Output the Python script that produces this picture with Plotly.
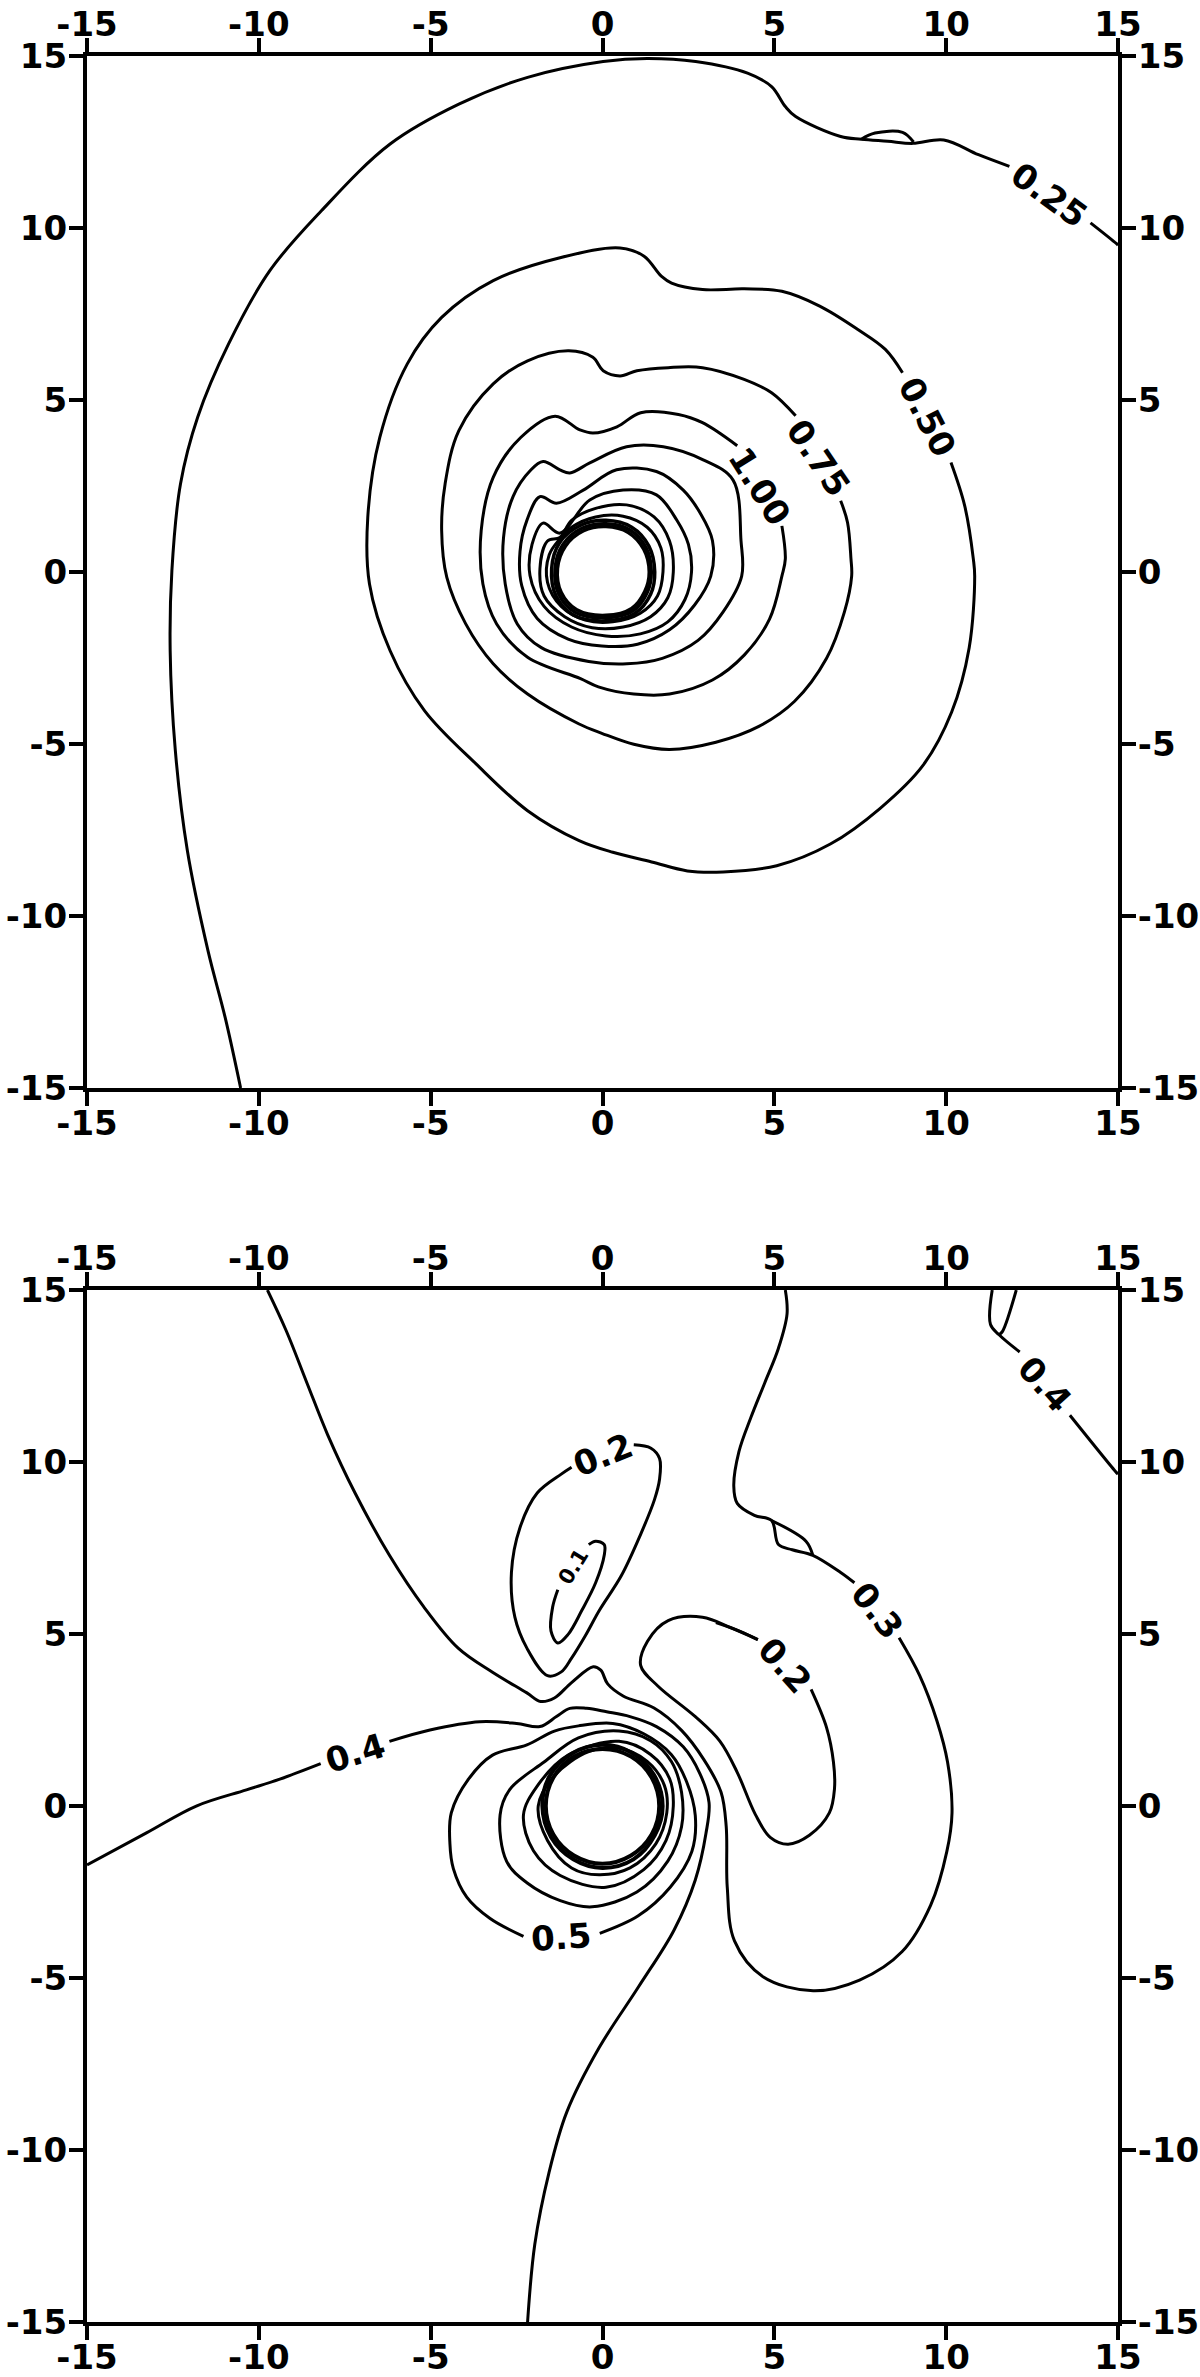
import plotly.graph_objects as go

# ---- top panel: contour paths (x, y in axis units) ----
TOP_025_A = [(-10.53, -15.0), (-10.98, -12.95), (-11.48, -11.01), (-12.08, -8.10), (-12.43, -5.19),
             (-12.58, -2.29), (-12.53, 0.04), (-12.28, 2.56), (-11.78, 4.50), (-10.88, 6.63),
             (-9.68, 8.76), (-8.18, 10.50), (-6.18, 12.44), (-4.18, 13.60), (-2.18, 14.38),
             (0.02, 14.84), (1.3, 14.93), (2.71, 14.84), (4.22, 14.50), (4.92, 14.11), (5.32, 13.53),
             (5.62, 13.24), (6.93, 12.66), (7.53, 12.58), (8.3, 12.52), (9.03, 12.46), (9.93, 12.56),
             (10.94, 12.13), (11.84, 11.79)]
TOP_025_LOOP = [(7.53, 12.58), (7.93, 12.76), (8.73, 12.78), (9.05, 12.5)]
TOP_025_B = [(14.20, 10.15), (14.95, 9.55), (15.0, 9.5)]

TOP_050 = [(10.14, 3.18), (10.54, 1.92), (10.79, 0.38), (10.83, -0.12), (10.67, -2.20), (10.16, -4.07),
           (9.32, -5.63), (8.08, -6.87), (6.63, -7.91), (5.07, -8.54), (3.51, -8.72), (2.47, -8.69),
           (1.43, -8.43), (0.3, -8.15), (-0.68, -7.81), (-2.18, -6.94), (-3.68, -5.58), (-5.18, -4.03),
           (-6.18, -2.29), (-6.78, -0.35), (-6.83, 1.59), (-6.48, 3.91), (-5.68, 6.05), (-4.68, 7.40),
           (-3.18, 8.47), (-1.18, 9.15), (0.51, 9.42), (1.21, 9.18), (1.71, 8.60), (2.01, 8.40),
           (2.91, 8.21), (4.12, 8.23), (5.22, 8.16), (6.32, 7.73), (7.43, 7.05), (8.23, 6.47), (8.73, 5.79)]

TOP_075 = [(6.93, 2.07), (7.13, 1.44), (7.23, 0.38), (7.25, -0.12), (7.04, -1.16), (6.52, -2.51),
           (5.59, -3.76), (4.55, -4.49), (3.30, -4.95), (1.95, -5.16), (0.91, -5.01), (-0.02, -4.69),
           (-0.68, -4.42), (-2.18, -3.55), (-3.18, -2.67), (-3.98, -1.51), (-4.53, -0.16), (-4.68, 1.20),
           (-4.58, 2.56), (-4.18, 4.11), (-3.18, 5.47), (-2.18, 6.14), (-0.98, 6.43), (-0.28, 6.24),
           (0.02, 5.85), (0.51, 5.70), (1.0, 5.85), (1.91, 5.94), (2.91, 5.94), (4.12, 5.60),
           (4.92, 5.21), (5.62, 4.54)]

TOP_100 = [(5.22, 1.34), (5.32, 0.38), (5.22, -0.12), (4.86, -1.37), (4.13, -2.41), (3.20, -3.14),
           (1.95, -3.55), (0.91, -3.55), (-0.12, -3.34), (-0.64, -3.1), (-2.18, -2.48), (-3.08, -1.51),
           (-3.48, -0.35), (-3.53, 1.20), (-3.18, 2.75), (-2.38, 3.91), (-1.38, 4.53), (-0.66, 4.13),
           (-0.28, 4.04), (0.42, 4.22), (1.11, 4.63), (2.21, 4.58), (2.91, 4.34), (3.92, 3.67)]

TOP_125 = [(3.80, 2.67), (4.03, 0.91), (4.05, -0.12), (3.51, -1.16), (2.78, -1.99), (1.74, -2.51),
           (0.71, -2.67), (-0.4, -2.6), (-1.78, -2.2), (-2.48, -1.51), (-2.83, -0.35), (-2.88, 1.0),
           (-2.6, 2.2), (-2.1, 2.95), (-1.73, 3.21), (-1.24, 2.97), (-0.95, 2.88), (-0.37, 3.17),
           (0.70, 3.64), (1.77, 3.64), (2.93, 3.26), (3.80, 2.67)]
TOP_150 = [(3.20, 0.91), (3.15, -0.12), (2.68, -0.96), (1.95, -1.68), (1.02, -2.10), (-0.02, -2.15),
           (-1.0, -1.95), (-1.9, -1.35), (-2.35, -0.4), (-2.4, 0.6), (-2.2, 1.5), (-1.82, 2.19),
           (-1.34, 2.0), (-0.56, 2.38), (0.41, 2.97), (1.57, 2.92), (2.35, 2.38), (2.85, 1.7), (3.20, 0.91)]
TOP_175 = [(2.59, 0.0), (2.4, -0.8), (1.9, -1.45), (1.1, -1.8), (0.1, -1.86), (-0.9, -1.6), (-1.7, -1.0),
           (-2.11, -0.1), (-2.05, 0.8), (-1.73, 1.42), (-1.24, 1.13), (-0.37, 2.09), (0.60, 2.38),
           (1.57, 2.24), (2.16, 1.51), (2.50, 0.8), (2.59, 0.0)]
TOP_200 = [(2.06, 0.0), (1.9, -0.75), (1.4, -1.3), (0.6, -1.6), (-0.3, -1.62), (-1.1, -1.3), (-1.7, -0.7),
           (-1.82, 0.1), (-1.6, 0.9), (-1.24, 1.0), (-0.9, 1.5), (-0.2, 1.85), (0.7, 1.95), (1.5, 1.6),
           (1.95, 0.9), (2.06, 0.0)]
TOP_225 = [(1.76, 0.0), (1.6, -0.7), (1.1, -1.2), (0.3, -1.45), (-0.5, -1.4), (-1.2, -1.0), (-1.6, -0.3),
           (-1.55, 0.5), (-1.25, 0.95), (-0.9, 1.3), (-0.2, 1.6), (0.6, 1.62), (1.3, 1.3), (1.7, 0.7),
           (1.76, 0.0)]
TOP_250 = [(1.52, 0.0), (1.35, 0.75), (0.85, 1.3), (0.1, 1.5), (-0.65, 1.35), (-1.25, 0.85), (-1.48, 0.1),
           (-1.35, -0.7), (-0.85, -1.25), (0.1, -1.42), (0.95, -1.2), (1.4, -0.65), (1.52, 0.0)]
TOP_275 = [(1.42, 0.0), (1.27, 0.7), (0.8, 1.22), (0.1, 1.4), (-0.6, 1.27), (-1.15, 0.8), (-1.38, 0.1),
           (-1.27, -0.65), (-0.8, -1.17), (0.1, -1.33), (0.9, -1.12), (1.3, -0.6), (1.42, 0.0)]
TOP_300 = [(1.36, 0.0), (1.2, 0.66), (0.75, 1.15), (0.1, 1.32), (-0.55, 1.2), (-1.08, 0.75), (-1.31, 0.1),
           (-1.2, -0.6), (-0.75, -1.1), (0.1, -1.26), (0.85, -1.06), (1.23, -0.57), (1.36, 0.0)]

TOP_LABELS = ["0.25", "0.50", "0.75", "1.00"]
TOP_LABEL_X = [13.0, 9.45, 6.28, 4.57]
TOP_LABEL_Y = [10.95, 4.5, 3.3, 2.5]
TOP_LABEL_ANGLE = [36, 63, 56, 58]

# ---- bottom panel ----
BOT_04_A = [(-15.0, -1.71), (-13.27, -0.78), (-11.82, 0.0), (-10.36, 0.47), (-9.39, 0.78), (-8.2, 1.23)]
BOT_04_B = [(-6.2, 1.88), (-5.02, 2.21), (-3.57, 2.45), (-2.50, 2.40), (-1.82, 2.31), (-1.34, 2.60),
            (-0.95, 2.84), (-0.46, 2.84), (0.12, 2.74), (0.80, 2.60), (1.57, 2.31), (2.35, 1.72),
            (2.83, 0.95), (3.10, 0.1), (3.01, -0.8), (2.70, -2.15), (2.08, -3.61), (1.04, -5.27),
            (-0.10, -7.03), (-1.04, -8.90), (-1.56, -10.67), (-1.97, -12.74), (-2.18, -15.0)]
BOT_04_TR_A = [(11.34, 15.0), (11.29, 14.0), (11.54, 13.7), (12.14, 13.2)]
BOT_04_TR_B = [(13.6, 11.36), (14.95, 9.70), (15.0, 9.65)]
BOT_04_TR_C = [(12.04, 15.0), (11.64, 13.8), (11.54, 13.7)]

BOT_03_A = [(-9.75, 15.0), (-9.2, 13.81), (-8.6, 12.30), (-8.0, 10.80), (-7.2, 9.10), (-6.2, 7.29),
            (-5.2, 5.79), (-4.2, 4.59), (-3.2, 3.89), (-2.2, 3.29), (-1.8, 3.04), (-1.4, 3.14),
            (-0.9, 3.59), (-0.27, 4.05), (-0.05, 3.95), (0.15, 3.55), (0.6, 3.2), (1.5, 2.85),
            (2.3, 2.2), (2.95, 1.35), (3.45, 0.4), (3.6, -0.6), (3.63, -2.36), (3.84, -3.92),
            (4.67, -4.96), (6.13, -5.37), (7.48, -5.06), (8.72, -4.23), (9.55, -2.88), (10.02, -1.32),
            (10.17, -0.2), (10.04, 1.28), (9.73, 2.48), (9.23, 3.79), (8.63, 4.89)]
BOT_03_B = [(7.33, 6.49), (6.93, 6.79), (6.12, 7.29), (5.52, 7.45), (5.12, 7.60), (4.92, 8.30),
            (4.42, 8.45), (3.92, 8.80), (3.82, 9.30), (3.97, 10.30), (4.32, 11.30), (4.72, 12.30),
            (5.12, 13.31), (5.37, 14.31), (5.32, 15.0)]
BOT_03_WEDGE = [(4.92, 8.30), (5.92, 7.70), (6.12, 7.29)]

BOT_02_R = [(6.07, 3.39), (6.52, 2.28), (6.72, 1.28), (6.75, 0.5), (6.6, -0.2), (6.02, -0.85),
            (5.40, -1.11), (4.88, -0.91), (4.45, -0.25), (3.92, 0.98), (3.42, 1.88), (2.71, 2.59),
            (1.61, 3.49), (1.11, 4.09), (1.31, 4.79), (1.91, 5.39), (2.91, 5.49), (3.72, 5.19), (4.52, 4.84)]
BOT_02_WEDGE = [(3.3, 5.33), (4.0, 5.08), (4.52, 4.84)]
BOT_02_LOBE = [(0.91, 10.5), (1.41, 10.4), (1.66, 10.1), (1.66, 9.5), (1.51, 8.9), (1.11, 7.9),
               (0.55, 6.7), (-0.09, 5.69), (-0.5, 4.95), (-0.9, 4.3), (-1.2, 3.9), (-1.6, 3.79),
               (-2.2, 4.59), (-2.55, 5.49), (-2.65, 6.79), (-2.4, 8.10), (-1.9, 9.10), (-1.2, 9.65),
               (-0.9, 9.85)]
BOT_01 = [(-0.4, 7.6), (-0.2, 7.70), (0.05, 7.60), (0.05, 7.29), (-0.2, 6.49), (-0.6, 5.69),
          (-1.0, 4.99), (-1.3, 4.74), (-1.5, 5.09), (-1.45, 5.79), (-1.3, 6.29)]

BOT_05 = [(-0.08, -3.70), (1.04, -3.19), (1.97, -2.36), (2.60, -1.32), (2.70, -0.28), (2.45, 0.7),
          (2.0, 1.5), (1.2, 2.1), (0.3, 2.4), (-0.7, 2.33), (-1.4, 2.18), (-2.2, 1.78), (-3.2, 1.48),
          (-3.9, 0.78), (-4.4, -0.2), (-4.44, -1.09), (-4.34, -1.82), (-3.95, -2.65), (-3.27, -3.27),
          (-2.30, -3.79)]
BOT_06 = [(-2.98, -0.26), (-2.7, 0.48), (-1.7, 1.28), (-0.7, 1.98), (0.48, 2.18), (1.4, 1.9), (2.0, 1.3),
          (2.3, 0.4), (2.3, -0.6), (1.9, -1.6), (1.0, -2.5), (-0.3, -2.93), (-1.23, -2.75), (-2.20, -2.23),
          (-2.79, -1.61), (-2.98, -0.26)]
BOT_07 = [(-2.30, -0.26), (-1.9, 0.58), (-1.0, 1.48), (0.48, 1.88), (1.4, 1.5), (1.95, 0.8), (2.06, 0.0),
          (1.85, -1.0), (1.2, -1.85), (0.1, -2.36), (-1.23, -2.02), (-2.01, -1.30), (-2.30, -0.26)]
BOT_08 = [(-1.87, 0.0), (-1.4, 0.88), (-0.4, 1.58), (0.48, 1.68), (1.3, 1.3), (1.8, 0.6), (1.87, -0.2),
          (1.55, -1.1), (0.8, -1.8), (-0.1, -2.0), (-0.9, -1.8), (-1.6, -1.0), (-1.87, 0.0)]
BOT_09 = [(1.75, 0.0), (1.5, 0.9), (0.85, 1.55), (0.0, 1.78), (-0.9, 1.52), (-1.55, 0.85), (-1.75, 0.0),
          (-1.5, -0.9), (-0.85, -1.55), (0.0, -1.8), (0.9, -1.55), (1.52, -0.85), (1.75, 0.0)]
BOT_10 = [(1.65, 0.0), (1.43, 0.83), (0.83, 1.44), (0.0, 1.66), (-0.83, 1.44), (-1.43, 0.83), (-1.65, 0.0),
          (-1.43, -0.83), (-0.83, -1.44), (0.0, -1.68), (0.83, -1.44), (1.43, -0.83), (1.65, 0.0)]

BOT_LABELS = ["0.4", "0.5", "0.2", "0.1", "0.2", "0.3", "0.4"]
BOT_LABEL_X = [-7.2, -1.2, 0.0, -0.85, 5.3, 7.98, 12.87]
BOT_LABEL_Y = [1.55, -3.8, 10.2, 6.95, 4.1, 5.69, 12.28]
BOT_LABEL_ANGLE = [-17, -4, -22, -58, 48, 52, 48]

TICKS = [-15, -10, -5, 0, 5, 10, 15]

fig = go.Figure()


def add_path(pts, xa, ya, width=3):
    fig.add_trace(go.Scatter(
        x=[p[0] for p in pts], y=[p[1] for p in pts], mode="lines",
        line=dict(color="black", width=width, shape="spline", smoothing=1.0),
        xaxis=xa, yaxis=ya, hoverinfo="skip", showlegend=False))


for path in [TOP_025_A, TOP_025_LOOP, TOP_025_B, TOP_050, TOP_075, TOP_100, TOP_125, TOP_150, TOP_175,
             TOP_200, TOP_225]:
    add_path(path, "x", "y")
for path in [TOP_250, TOP_275, TOP_300]:
    add_path(path, "x", "y", width=3.5)

for path in [BOT_04_A, BOT_04_B, BOT_04_TR_A, BOT_04_TR_B, BOT_04_TR_C, BOT_03_A, BOT_03_B, BOT_03_WEDGE,
             BOT_02_R, BOT_02_WEDGE, BOT_02_LOBE, BOT_01, BOT_05, BOT_06, BOT_07, BOT_08]:
    add_path(path, "x2", "y2")
for path in [BOT_09, BOT_10]:
    add_path(path, "x2", "y2", width=4)

# empty traces so the mirrored (top / right) axes get drawn
for xa, ya in [("x3", "y3"), ("x4", "y4")]:
    fig.add_trace(go.Scatter(x=[], y=[], xaxis=xa, yaxis=ya, showlegend=False, hoverinfo="skip"))

label_font = dict(family="DejaVu Sans", size=34, color="black", weight="bold")
annotations = []
for t, x, y, a in zip(TOP_LABELS, TOP_LABEL_X, TOP_LABEL_Y, TOP_LABEL_ANGLE):
    annotations.append(dict(text=t, x=x, y=y, xref="x", yref="y", textangle=a, showarrow=False,
                            font=label_font))
for t, x, y, a in zip(BOT_LABELS, BOT_LABEL_X, BOT_LABEL_Y, BOT_LABEL_ANGLE):
    f = dict(label_font, size=21) if t == "0.1" else label_font
    annotations.append(dict(text=t, x=x, y=y, xref="x2", yref="y2", textangle=a, showarrow=False, font=f))

axis_style = dict(range=[-15, 15], tickmode="array", tickvals=TICKS, ticktext=[str(v) for v in TICKS],
                  showline=True, linewidth=4, linecolor="black", ticks="outside", ticklen=14,
                  tickwidth=4, tickcolor="black", showgrid=False, zeroline=False, automargin=False,
                  tickfont=dict(family="DejaVu Sans", size=34, color="black", weight="bold"))
x_style = dict(axis_style, ticklabelstandoff=-12)
y_style = dict(axis_style, ticklabelstandoff=-5)

top_dom = [0.5446, 1.0]
bot_dom = [0.0, 0.4554]

fig.update_layout(
    width=1200, height=2377,
    margin=dict(l=87, r=82, t=56, b=55),
    paper_bgcolor="white", plot_bgcolor="white",
    showlegend=False,
    annotations=annotations,
    xaxis=dict(x_style, domain=[0, 1], anchor="y", side="bottom"),
    yaxis=dict(y_style, domain=top_dom, anchor="x", side="left"),
    xaxis3=dict(x_style, overlaying="x", anchor="y3", side="top"),
    yaxis3=dict(y_style, overlaying="y", anchor="x3", side="right"),
    xaxis2=dict(x_style, domain=[0, 1], anchor="y2", side="bottom"),
    yaxis2=dict(y_style, domain=bot_dom, anchor="x2", side="left"),
    xaxis4=dict(x_style, overlaying="x2", anchor="y4", side="top"),
    yaxis4=dict(y_style, overlaying="y2", anchor="x4", side="right"),
)

# drop the browser's default 8px body margin so the figure sits at the page corner
fig.write_html("out.html", config={"displayModeBar": False},
               post_script="document.body.style.margin='0';")
